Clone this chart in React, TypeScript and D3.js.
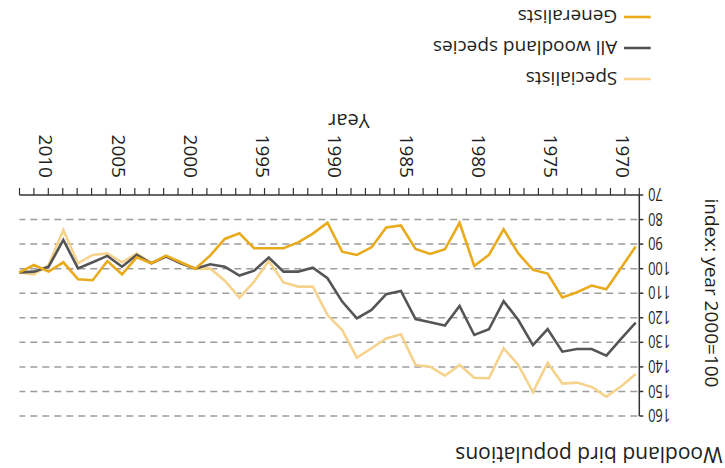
import React from 'react';
import * as d3 from 'd3';

const years = [1970, 1971, 1972, 1973, 1974, 1975, 1976, 1977, 1978, 1979, 1980, 1981, 1982, 1983, 1984, 1985, 1986, 1987, 1988, 1989, 1990, 1991, 1992, 1993, 1994, 1995, 1996, 1997, 1998, 1999, 2000, 2001, 2002, 2003, 2004, 2005, 2006, 2007, 2008, 2009, 2010, 2011, 2012];

const generalists = [91.0, 99.7, 108.4, 106.9, 109.6, 111.7, 102.0, 100.5, 93.8, 84.0, 94.4, 98.9, 81.3, 92.1, 94.0, 92.0, 82.4, 83.2, 91.3, 94.4, 93.1, 81.3, 85.7, 89.3, 91.7, 91.7, 91.7, 85.6, 87.9, 94.7, 100, 97.4, 94.7, 97.8, 95.4, 102.3, 96.9, 104.7, 104.3, 97.4, 101.2, 98.5, 101.5];

const allWoodland = [122.0, 128.6, 135.4, 132.7, 132.7, 133.8, 124.6, 131.1, 120.9, 113.2, 124.7, 127.0, 115.2, 123.2, 121.8, 120.5, 109.1, 110.4, 116.8, 120.2, 113.4, 103.9, 99.6, 101.2, 101.2, 95.5, 100.8, 102.8, 99.2, 98.2, 100, 97.8, 95.1, 97.8, 94.4, 99.2, 94.8, 97.4, 99.9, 88.3, 99.2, 101.2, 101.5];

const specialists = [142.9, 148.0, 152.1, 148.2, 146.4, 146.8, 138.3, 150.3, 139.2, 132.4, 144.6, 144.4, 139.2, 143.6, 139.9, 139.2, 126.7, 128.4, 132.4, 136.2, 125.0, 118.9, 107.3, 107.3, 105.6, 96.9, 105.3, 111.8, 104.9, 99.9, 100, 97.8, 94.8, 97.8, 93.8, 97.4, 93.8, 94.4, 97.8, 84.3, 98.5, 102.3, 101.5];

const yTicks = [70, 80, 90, 100, 110, 120, 130, 140, 150, 160];
const xLabelYears = [1970, 1975, 1980, 1985, 1990, 1995, 2000, 2005, 2010];
const tickYears = [1969, 1970, 1971, 1972, 1973, 1974, 1975, 1976, 1977, 1978, 1979, 1980, 1981, 1982, 1983, 1984, 1985, 1986, 1987, 1988, 1989, 1990, 1991, 1992, 1993, 1994, 1995, 1996, 1997, 1998, 1999, 2000, 2001, 2002, 2003, 2004, 2005, 2006, 2007, 2008, 2009, 2010, 2011, 2012];

const seriesNames = ['Specialists', 'All woodland species', 'Generalists'];
const seriesColors = ['#f6d38c', '#555555', '#e9aa1c'];
const seriesValues = [specialists, allWoodland, generalists];

const W = 725;
const H = 468;
const FONT = '"Open Sans", "DejaVu Sans", sans-serif';
const TEXT = '#231f20';

export default function App() {
  const xData = d3.scaleLinear().domain([1970, 2012]).range([89.3, 705.7]);
  const xAxis = d3.scaleLinear().domain([1969, 2012]).range([85.7, 705.5]);
  const y = d3.scaleLinear().domain([70, 160]).range([273, 52]);

  const line = d3
    .line<number>()
    .x((_, i) => xData(years[i]))
    .y((d) => y(d));

  const axisX0 = xAxis(1969);

  return (
    <svg
      width={W}
      height={H}
      style={{ position: 'absolute', left: 0, top: 0, background: '#fff' }}
    >
      <g transform={`rotate(180 ${W / 2} ${H / 2})`}>
        {/* title */}
        <text x={2.5} y={21.5} fontFamily={FONT} fontSize={21} fill={TEXT}>
          Woodland bird populations
        </text>

        {/* y axis title */}
        <text
          transform={`translate(20, 175) rotate(-90)`}
          textAnchor="middle"
          fontFamily={FONT}
          fontSize={19}
          fill={TEXT}
        >
          index: year 2000=100
        </text>

        {/* grid */}
        {yTicks
          .filter((t) => t !== 70)
          .map((t) => (
            <line
              key={'g' + t}
              x1={axisX0 + 2}
              x2={xAxis(2012)}
              y1={y(t)}
              y2={y(t)}
              stroke="#9d9d9d"
              strokeWidth={1.5}
              strokeDasharray="7 5"
            />
          ))}

        {/* series */}
        {seriesValues.map((vals, i) => (
          <path
            key={seriesNames[i]}
            d={line(vals) || ''}
            fill="none"
            stroke={seriesColors[i]}
            strokeWidth={2.6}
            strokeLinejoin="miter"
          />
        ))}

        {/* y axis */}
        <line x1={axisX0} x2={axisX0} y1={y(160)} y2={y(70)} stroke="#333" strokeWidth={1.5} />
        {yTicks.map((t) => (
          <g key={'yt' + t}>
            <line x1={axisX0 - 4} x2={axisX0} y1={y(t)} y2={y(t)} stroke="#333" strokeWidth={1.5} />
            <text
              transform={`translate(77, ${y(t)}) scale(0.68, 1)`}
              textAnchor="end"
              dy="0.36em"
              fontFamily={FONT}
              fontSize={19}
              fill={TEXT}
            >
              {t}
            </text>
          </g>
        ))}

        {/* x axis */}
        <line x1={axisX0} x2={xAxis(2012)} y1={y(70)} y2={y(70)} stroke="#333" strokeWidth={1.5} />
        {tickYears.map((yr) => (
          <line
            key={'xt' + yr}
            x1={xAxis(yr)}
            x2={xAxis(yr)}
            y1={y(70)}
            y2={y(70) + 7}
            stroke="#333"
            strokeWidth={1.2}
          />
        ))}
        {xLabelYears.map((yr) => (
          <text
            key={'xl' + yr}
            transform={`translate(${xAxis(yr) + 2}, 290) rotate(-90)`}
            textAnchor="end"
            dy="0.36em"
            fontFamily={FONT}
            fontSize={19}
            fill={TEXT}
          >
            {yr}
          </text>
        ))}
        <text x={376} y={354.5} textAnchor="middle" fontFamily={FONT} fontSize={20} fill={TEXT}>
          Year
        </text>

        {/* legend */}
        {seriesNames.map((name, i) => {
          const ly = 389 + i * 31;
          return (
            <g key={'lg' + name}>
              <line x1={74.3} x2={101} y1={ly} y2={ly} stroke={seriesColors[i]} strokeWidth={2.6} />
              <text x={107.7} y={ly} dy="0.35em" fontFamily={FONT} fontSize={19} fill={TEXT}>
                {name}
              </text>
            </g>
          );
        })}
      </g>
    </svg>
  );
}
